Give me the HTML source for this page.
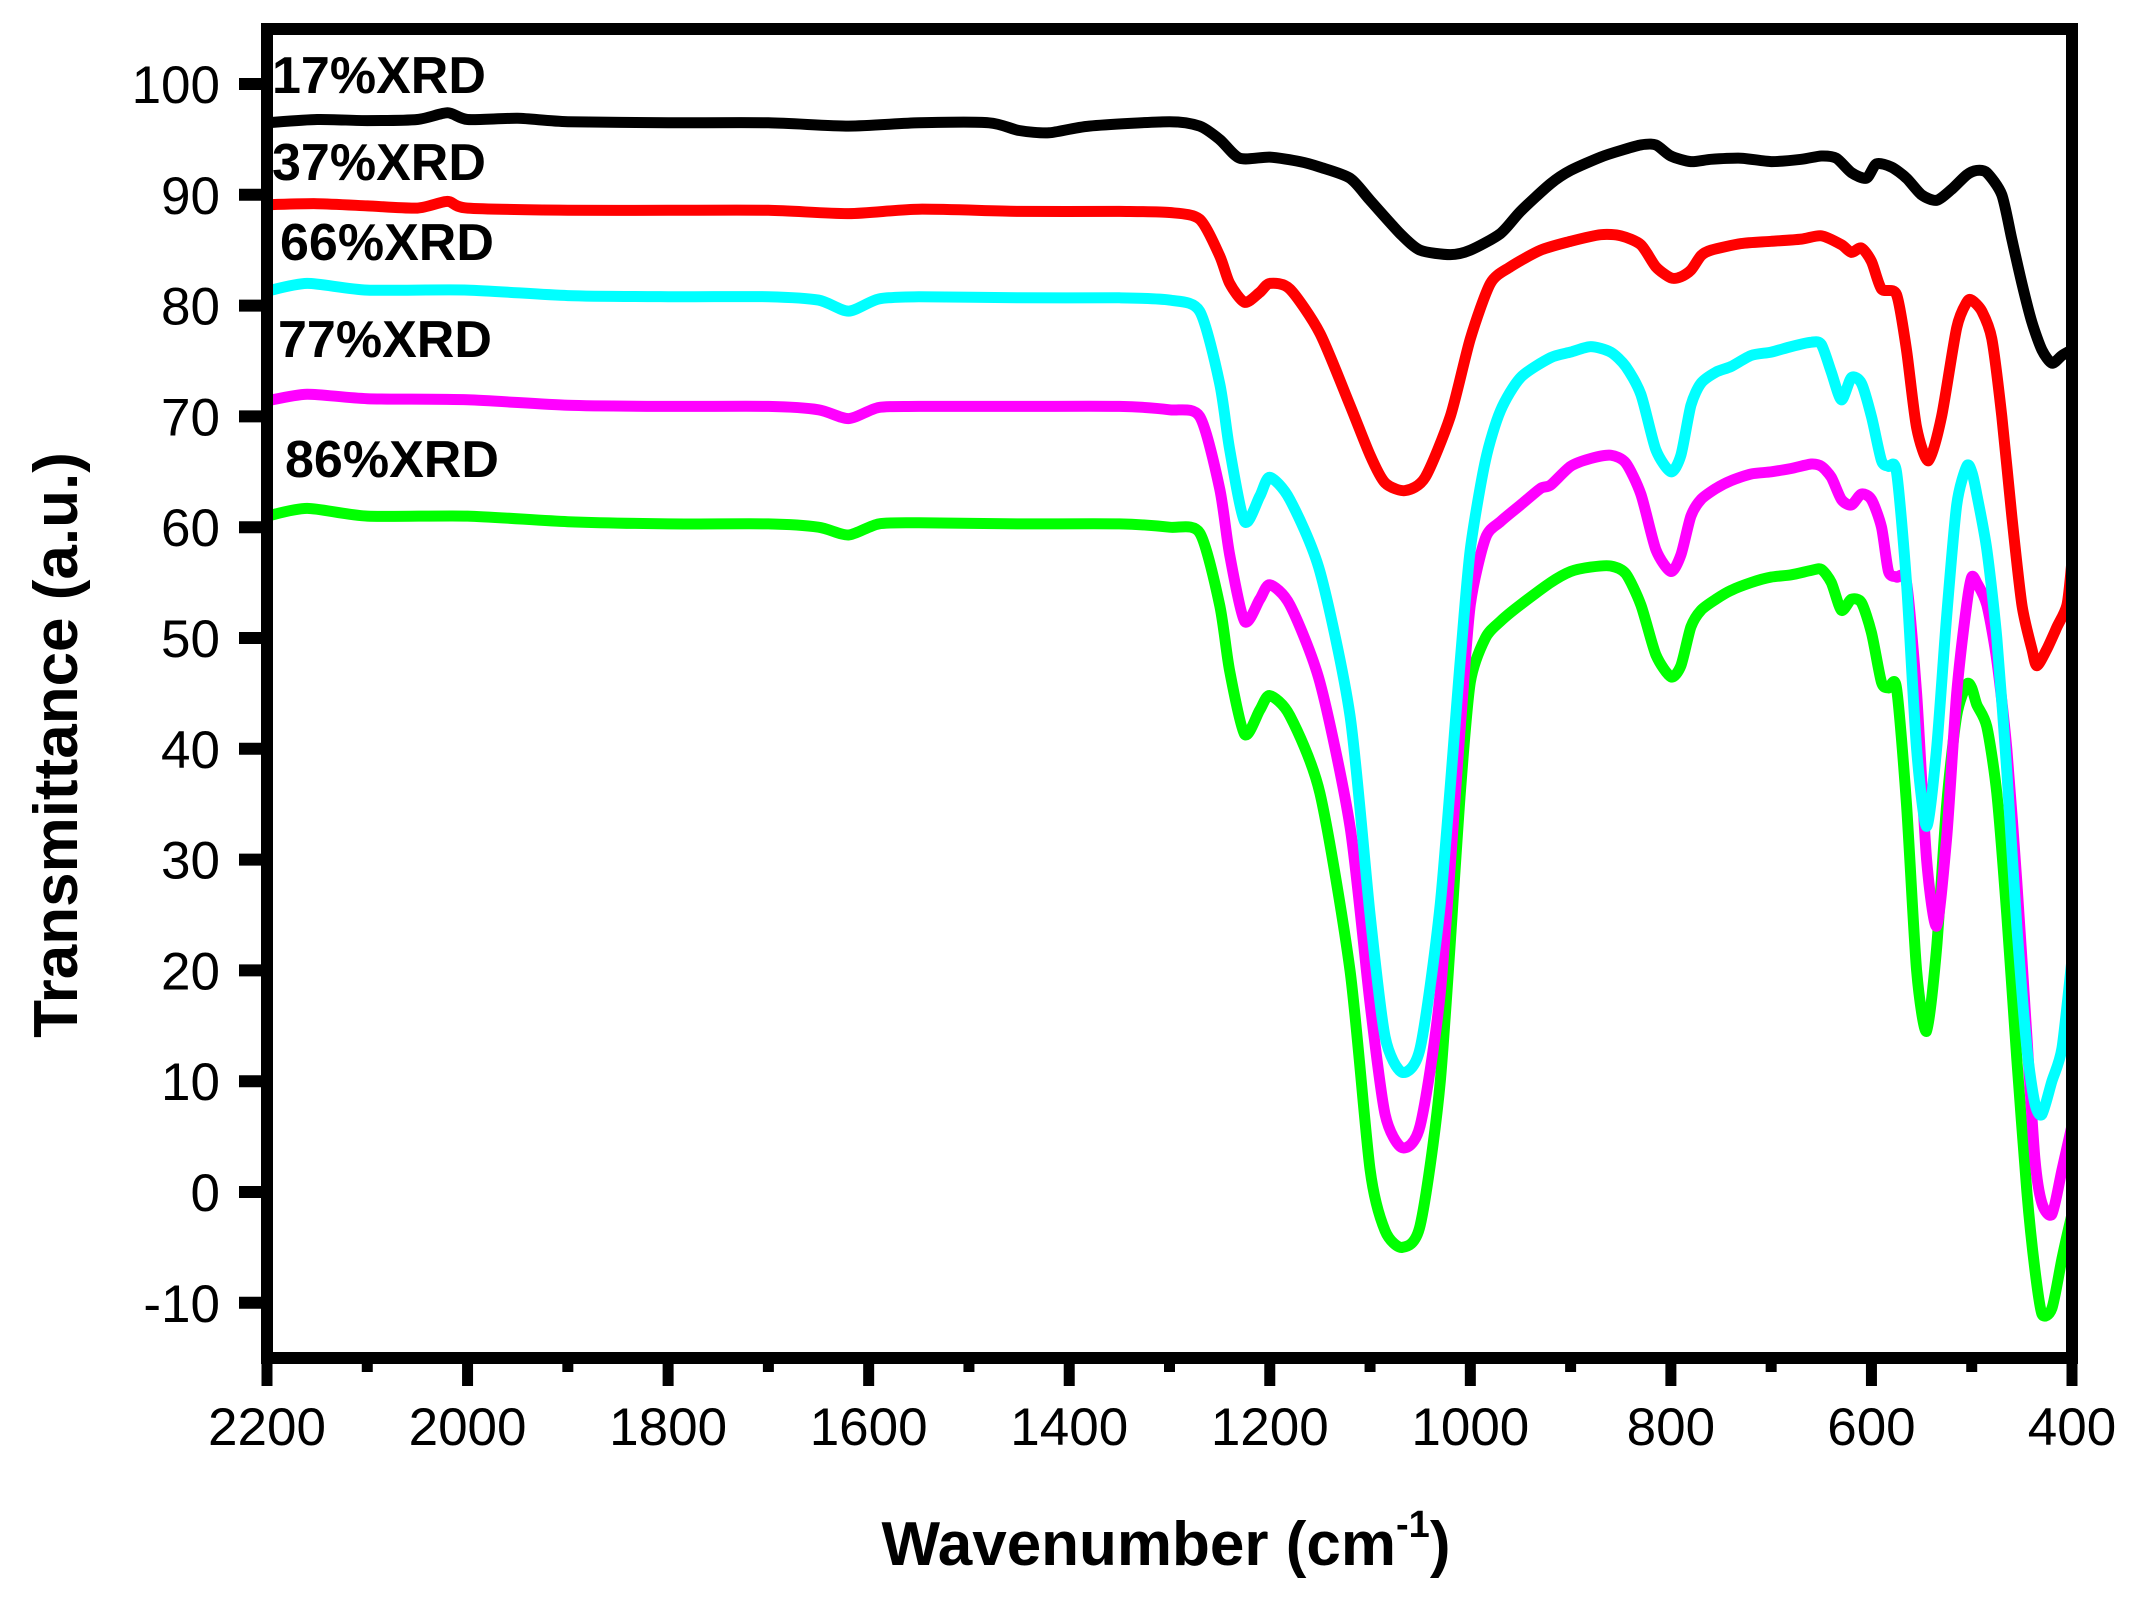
<!DOCTYPE html>
<html><head><meta charset="utf-8"><style>
html,body{margin:0;padding:0;background:#fff}
svg{display:block}
text{font-family:"Liberation Sans",Arial,sans-serif}
</style></head><body>
<svg id="chart" width="2147" height="1611" viewBox="0 0 2147 1611" xmlns="http://www.w3.org/2000/svg">
<rect width="2147" height="1611" fill="#fff"/>
<g id="series"></g>
<g id="axes"></g>
</svg>
<script>
const xTicks=[2200,2000,1800,1600,1400,1200,1000,800,600,400];
const yTicks=[100,90,80,70,60,50,40,30,20,10,0,-10];
const seriesNames=["17%XRD","37%XRD","66%XRD","77%XRD","86%XRD"];
const seriesColors=["#000000","#ff0000","#00ffff","#ff00ff","#00ff00"];
const wn17=[2200,2150,2100,2050,2020,2000,1950,1900,1800,1700,1620,1550,1480,1450,1420,1380,1300,1270,1250,1230,1200,1170,1150,1120,1100,1070,1050,1020,1000,970,950,920,900,870,850,830,815,800,780,760,730,700,670,650,635,620,605,595,580,565,550,535,520,505,495,485,470,460,450,440,430,420,410,400];
const val17=[96.5,96.8,96.7,96.8,97.4,96.8,96.9,96.6,96.5,96.5,96.2,96.5,96.5,95.8,95.6,96.2,96.6,96.2,95,93.3,93.4,93,92.5,91.5,89.5,86.5,85,84.6,85,86.5,88.5,91,92.2,93.4,94,94.5,94.5,93.5,93,93.2,93.3,93,93.2,93.5,93.3,92,91.5,92.8,92.5,91.5,90,89.5,90.5,91.8,92.2,92,90,86,82,78.5,76,74.8,75.5,76];
const wn37=[2200,2150,2100,2050,2020,2000,1900,1800,1700,1620,1550,1450,1350,1300,1270,1250,1240,1225,1210,1200,1180,1150,1120,1100,1085,1065,1045,1020,1000,980,960,930,900,870,850,830,815,800,790,780,770,760,730,700,670,650,630,620,610,600,590,575,565,555,543,530,515,505,500,490,480,470,460,450,440,435,425,415,405,400];
const val37=[89.1,89.2,89,88.8,89.4,88.8,88.6,88.6,88.6,88.3,88.7,88.5,88.5,88.4,87.8,84.5,82,80.3,81.2,82,81.5,77.5,71,66.5,64,63.3,64.5,70,77,82,83.5,85,85.8,86.4,86.3,85.5,83.5,82.5,82.6,83.2,84.5,85,85.6,85.8,86,86.3,85.5,84.8,85.2,84,81.5,81,76,69,66,70,78,80.3,80.5,79.5,77,70,61,53,49,47.5,49,51,53,57];
const wn66=[2200,2160,2100,2000,1900,1800,1700,1650,1620,1590,1550,1450,1350,1300,1270,1250,1240,1225,1210,1200,1180,1150,1120,1100,1085,1068,1050,1030,1010,1000,985,970,950,920,900,880,860,845,830,815,800,790,780,770,755,740,720,700,680,660,650,640,630,620,610,600,590,583,575,565,555,545,535,525,515,505,500,495,485,475,465,455,445,437,430,420,410,400];
const val66=[81.3,82,81.4,81.4,80.9,80.8,80.8,80.5,79.5,80.6,80.8,80.7,80.7,80.5,79.5,73,67,60.5,62.8,64.5,62.5,56,43,25,14,10.8,13,26,48,58,66,70.5,73.5,75.3,75.8,76.3,75.8,74.5,72,67,65,66.5,71,73,74,74.5,75.5,75.8,76.3,76.7,76.5,74,71.5,73.5,73,70,66,65.5,65,55,40,33,40,52,62,65.5,65,63,58,50,38,24,13,8,7,10,13,21];
const wn77=[2200,2160,2100,2000,1900,1800,1700,1650,1620,1590,1550,1450,1350,1300,1270,1250,1240,1225,1210,1200,1180,1150,1120,1100,1085,1068,1050,1030,1010,1000,985,970,950,930,920,900,880,860,845,830,815,800,790,780,770,755,740,720,700,680,660,650,640,630,620,610,600,590,583,575,565,555,545,535,525,515,505,500,495,485,475,465,455,445,437,430,420,410,400];
const val77=[71.4,72,71.6,71.5,71,70.9,70.9,70.6,69.8,70.8,70.9,70.9,70.9,70.6,70,63.5,57.5,51.5,53.5,54.8,53,46,33,17,7,4,6,18,42,53,59,60.5,62,63.5,63.8,65.5,66.2,66.5,65.8,63,58,56,57.5,61,62.5,63.5,64.2,64.8,65,65.3,65.7,65.5,64.5,62.5,62,63,62.5,60,56,55.5,55,45,30,24,32,45,53,55.5,55,53,48,40,28,14,3,-1,-2,2,6,13];
const wn86=[2200,2160,2100,2000,1900,1800,1700,1650,1620,1590,1550,1450,1350,1300,1270,1250,1240,1225,1210,1200,1180,1150,1120,1100,1085,1068,1050,1030,1010,1000,985,970,950,920,900,880,860,845,830,815,800,790,780,770,755,740,720,700,680,660,650,640,630,620,610,600,590,583,575,565,555,545,535,525,515,505,500,495,485,475,465,455,445,437,430,420,410,400];
const val86=[61,61.7,61,61,60.5,60.3,60.3,60,59.3,60.3,60.4,60.3,60.3,60,59.5,53,47,41.3,43.5,44.8,43,36,20,2,-3.5,-5,-3,10,36,46,50,51.5,53,55,56,56.4,56.5,55.8,53,48.5,46.5,47.5,51,52.5,53.5,54.3,55,55.5,55.7,56.1,56.2,55,52.5,53.5,53.2,50.5,46,45.5,45.5,35,20,14.5,22,35,43,45.8,45.5,44,42,36,25,12,0,-7,-11,-10.5,-6,-2,4];
const wnAll=[wn17,wn37,wn66,wn77,wn86];
const valAll=[val17,val37,val66,val77,val86];
const labelY=[93,180,260,357,477];
const labelX=[272,272,280,278,285];

const NS="http://www.w3.org/2000/svg";
const X0=267,X1=2072,Y0=1192,PX=11.08;
function xs(w){return X0+(2200-w)*(X1-X0)/1800;}
function ys(v){return Y0-v*PX;}
function mk(tag,attrs,parent){const e=document.createElementNS(NS,tag);for(const k in attrs)e.setAttribute(k,attrs[k]);parent.appendChild(e);return e;}
function smooth(pts){
  let d="M"+pts[0][0].toFixed(1)+","+pts[0][1].toFixed(1);
  const k=8;
  for(let i=0;i<pts.length-1;i++){
    const p0=pts[Math.max(i-1,0)],p1=pts[i],p2=pts[i+1],p3=pts[Math.min(i+2,pts.length-1)];
    const c1=[p1[0]+(p2[0]-p0[0])/k,p1[1]+(p2[1]-p0[1])/k];
    const c2=[p2[0]-(p3[0]-p1[0])/k,p2[1]-(p3[1]-p1[1])/k];
    d+=" C"+c1[0].toFixed(1)+","+c1[1].toFixed(1)+" "+c2[0].toFixed(1)+","+c2[1].toFixed(1)+" "+p2[0].toFixed(1)+","+p2[1].toFixed(1);
  }
  return d;
}
const sg=document.getElementById("series");
for(let s=seriesNames.length-1;s>=0;s--){
  const pts=wnAll[s].map((w,i)=>[xs(w),ys(valAll[s][i])]);
  const p=mk("path",{d:smooth(pts),fill:"none",stroke:seriesColors[s],"stroke-width":11,"stroke-linejoin":"round","stroke-linecap":"round"},sg);
  
  
}
for(let s=0;s<seriesNames.length;s++){
  const t=mk("text",{x:labelX[s],y:labelY[s],"font-size":52,"font-weight":"bold",fill:"#000"},sg);
  t.textContent=seriesNames[s];
  
  
}
const ag=document.getElementById("axes");
const frame=mk("rect",{x:X0,y:29,width:X1-X0,height:1358-29,fill:"none",stroke:"#000","stroke-width":12},ag);


xTicks.forEach(w=>{
  const l=mk("line",{x1:xs(w),x2:xs(w),y1:1358,y2:1386,stroke:"#000","stroke-width":11},ag);
  
  
  const t=mk("text",{x:xs(w),y:1445,"font-size":53,"text-anchor":"middle",fill:"#000"},ag);
  t.textContent=w;
  
  
});
for(let i=0;i<xTicks.length-1;i++){
  const w=(xTicks[i]+xTicks[i+1])/2;
  const l=mk("line",{x1:xs(w),x2:xs(w),y1:1358,y2:1372,stroke:"#000","stroke-width":11},ag);
  
  
}
yTicks.forEach(v=>{
  const l=mk("line",{x1:239,x2:X0,y1:ys(v),y2:ys(v),stroke:"#000","stroke-width":12},ag);
  
  
  const t=mk("text",{x:220,y:ys(v)+19,"font-size":53,"text-anchor":"end",fill:"#000"},ag);
  t.textContent=v;
  
  
});
const xt=mk("text",{x:1166,y:1565,"font-size":62,"font-weight":"bold","text-anchor":"middle",fill:"#000"},ag);


xt.innerHTML='Wavenumber (cm<tspan dy="-28" font-size="38">-1</tspan><tspan dy="28">)</tspan>';
const yt=mk("text",{x:0,y:0,"font-size":62,"font-weight":"bold","text-anchor":"middle",fill:"#000",transform:"translate(77,745) rotate(-90)"},ag);
yt.textContent="Transmittance (a.u.)";


</script>
</body></html>
